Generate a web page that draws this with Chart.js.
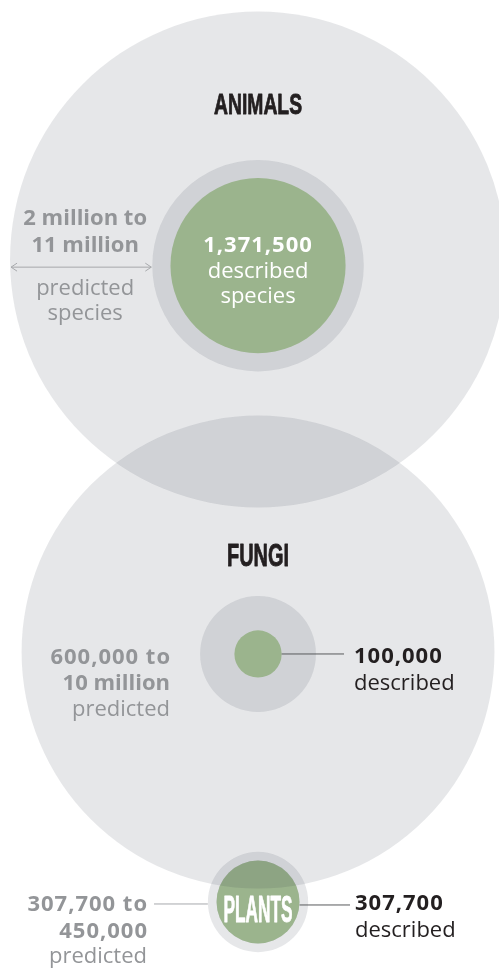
<!DOCTYPE html>
<html>
<head>
<meta charset="utf-8">
<script src="https://cdn.jsdelivr.net/npm/chart.js@4"></script>
<style>
  html, body { margin: 0; padding: 0; background: #fff; }
  #wrap { width: 499px; height: 968px; position: relative; }
</style>
</head>
<body>
<div id="wrap"><canvas id="myChart"></canvas></div>
<script>
// Species counts per kingdom
const groups = ['ANIMALS', 'FUNGI', 'PLANTS'];
const described = [1371500, 100000, 307700];
const predictedLow = [2000000, 600000, 307700];
const predictedHigh = [11000000, 10000000, 450000];
const describedLabels = ['1,371,500', '100,000', '307,700'];
const predictedLabels = [['2 million to', '11 million'], ['600,000 to', '10 million'], ['307,700 to', '450,000']];

// Layout: circle centres in sqrt(million species) units
const outerX = [0, 0, 0];
const outerY = [0, 5.25, 8.593];
const innerY = [0.082, 5.276, 8.593];

const GREY = 'rgba(28, 37, 55, 0.11)';
const GREEN = '#9bb48d';
const DARK = '#231f20';
const TEXTGREY = '#939598';
const BODY = '"Open Sans", sans-serif';

// circle area follows the species count
function radiusFor(ctx) {
    const xs = ctx.chart.scales.x;
    return xs.getPixelForValue(Math.sqrt(ctx.raw.v / 1e6)) - xs.getPixelForValue(0);
}

// one dataset per kingdom: [predicted high, predicted low, described]
function makeDataset(i) {
    const values = [predictedHigh[i], predictedLow[i], described[i]];
    return {
        label: groups[i],
        data: values.map((v, k) => ({ x: outerX[i], y: k === 0 ? outerY[i] : innerY[i], v: v })),
        backgroundColor: values.map((v, k) => k === 2 ? GREEN : GREY),
        borderWidth: 0,
        clip: false,
        pointRadius: radiusFor,
        pointHoverRadius: radiusFor
    };
}

function text(ctx, str, x, y, font, color, align) {
    ctx.font = font;
    ctx.fillStyle = color;
    ctx.textAlign = align || 'center';
    ctx.textBaseline = 'alphabetic';
    // numbers in the original face are a bit wider
    ctx.letterSpacing = str.indexOf(',') >= 0 ? '1px' : '0px';
    ctx.fillText(str, x, y);
    ctx.letterSpacing = '0px';
}

// condensed heading, squeezed to the given width
function title(ctx, str, x, y, cap, width, color) {
    ctx.save();
    ctx.font = 'bold ' + (cap / 0.716).toFixed(1) + 'px "Liberation Sans", Arial, sans-serif';
    const sx = width / ctx.measureText(str).width;
    ctx.fillStyle = color;
    ctx.strokeStyle = color;
    ctx.lineWidth = 0.9;
    ctx.lineJoin = 'round';
    ctx.textAlign = 'center';
    ctx.textBaseline = 'alphabetic';
    ctx.translate(x, y);
    ctx.scale(sx, 1);
    ctx.fillText(str, 0, 0);
    ctx.strokeText(str, 0, 0);
    ctx.restore();
}

function line(ctx, x1, y1, x2, y2, color) {
    ctx.beginPath();
    ctx.moveTo(x1, y1);
    ctx.lineTo(x2, y2);
    ctx.strokeStyle = color;
    ctx.lineWidth = 1;
    ctx.stroke();
}

const labelPlugin = {
    id: 'labels',
    afterDatasetsDraw(chart) {
        const ctx = chart.ctx;
        const xs = chart.scales.x, ys = chart.scales.y;
        const rad = v => xs.getPixelForValue(Math.sqrt(v / 1e6)) - xs.getPixelForValue(0);
        const B = 'bold 22px ' + BODY;
        const R = '22px ' + BODY;
        ctx.save();

        // animals
        let cx = xs.getPixelForValue(outerX[0]);
        let oy = ys.getPixelForValue(outerY[0]);
        let cy = ys.getPixelForValue(innerY[0]);
        title(ctx, groups[0], cx, oy - 145.5, 21.5, 88, DARK);
        text(ctx, describedLabels[0], cx, cy - 14, B, '#fff');
        text(ctx, 'described', cx, cy + 12.5, R, '#fff');
        text(ctx, 'species', cx, cy + 37.5, R, '#fff');
        const left = cx - rad(predictedHigh[0]);
        const right = cx - rad(predictedLow[0]);
        const mid = (left + right) / 2 + 4;
        text(ctx, predictedLabels[0][0], mid, cy - 40.5, B, TEXTGREY);
        text(ctx, predictedLabels[0][1], mid, cy - 13.5, B, TEXTGREY);
        text(ctx, 'predicted', mid, cy + 29.5, R, TEXTGREY);
        text(ctx, 'species', mid, cy + 54.5, R, TEXTGREY);
        const ay = cy + 1.5;
        line(ctx, left + 1, ay, right - 1, ay, '#a7a9ac');
        ctx.beginPath();
        ctx.moveTo(left + 7, ay - 4); ctx.lineTo(left + 1, ay); ctx.lineTo(left + 7, ay + 4);
        ctx.moveTo(right - 7, ay - 4); ctx.lineTo(right - 1, ay); ctx.lineTo(right - 7, ay + 4);
        ctx.stroke();

        // fungi
        cx = xs.getPixelForValue(outerX[1]);
        oy = ys.getPixelForValue(outerY[1]);
        cy = ys.getPixelForValue(innerY[1]);
        title(ctx, groups[1], cx, oy - 86.5, 22.5, 62, DARK);
        line(ctx, cx + rad(described[1]), cy, cx + 86, cy, '#58595b');
        text(ctx, describedLabels[1], cx + 96, cy + 9, B, DARK, 'left');
        text(ctx, 'described', cx + 96, cy + 36, R, DARK, 'left');
        text(ctx, predictedLabels[1][0], cx - 87, cy + 10, B, TEXTGREY, 'right');
        text(ctx, predictedLabels[1][1], cx - 88, cy + 36, B, TEXTGREY, 'right');
        text(ctx, 'predicted', cx - 88, cy + 62, R, TEXTGREY, 'right');

        // plants
        cx = xs.getPixelForValue(outerX[2]);
        cy = ys.getPixelForValue(innerY[2]);
        title(ctx, groups[2], cx, cy + 20, 27, 69, '#fff');
        line(ctx, cx + rad(described[2]), cy + 3, cx + 92, cy + 3, '#58595b');
        text(ctx, describedLabels[2], cx + 97, cy + 8, B, DARK, 'left');
        text(ctx, 'described', cx + 97, cy + 35, R, DARK, 'left');
        line(ctx, cx - 104, cy + 2, cx - rad(predictedHigh[2]), cy + 2, '#a7a9ac');
        text(ctx, predictedLabels[2][0], cx - 110, cy + 9, B, TEXTGREY, 'right');
        text(ctx, predictedLabels[2][1], cx - 110, cy + 36, B, TEXTGREY, 'right');
        text(ctx, 'predicted', cx - 111, cy + 61, R, TEXTGREY, 'right');

        ctx.restore();
    }
};

document.addEventListener('DOMContentLoaded', () => {
    const ctx = document.getElementById('myChart').getContext('2d');
    // fungi first so it is drawn on top, plants last so it sits underneath
    const myChart = new Chart(ctx, {
        type: 'scatter',
        data: {
            datasets: [makeDataset(1), makeDataset(0), makeDataset(2)]
        },
        options: {
            responsive: true,
            maintainAspectRatio: false,
            animation: false,
            events: [],
            layout: { padding: 0, autoPadding: false },
            plugins: { legend: { display: false }, tooltip: { enabled: false } },
            scales: {
                x: { type: 'linear', min: -3.451, max: 3.223, display: false },
                y: { type: 'linear', reverse: true, min: -3.471, max: 9.476, display: false }
            }
        },
        plugins: [labelPlugin]
    });
});
</script>
</body>
</html>
